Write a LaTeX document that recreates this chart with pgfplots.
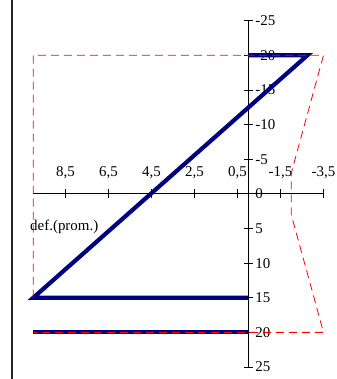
\documentclass[border=0pt]{standalone}
\usepackage{fontspec}
\setmainfont{Liberation Serif}
\usepackage{pgfplots}
\pgfplotsset{compat=1.18}
\definecolor{navyblue}{RGB}{0,0,128}
\begin{document}
\begin{tikzpicture}
\begin{axis}[
  at={(178.4bp,185.15bp)}, anchor=center,
  scale only axis, width=290.2bp, height=346.3bp,
  axis lines=middle, axis line style={-, black, line width=0.8bp},
  x dir=reverse, y dir=reverse,
  xmin=-3.5, xmax=10, ymin=-25, ymax=25,
  xtick={8.5,6.5,4.5,2.5,0.5,-1.5,-3.5},
  xticklabels={{8,5},{6,5},{4,5},{2,5},{0,5},{-1,5},{-3,5}},
  ytick={-25,-20,-15,-10,-5,0,5,10,15,20,25},
  yticklabels={-25,-20,-15,-10,-5,0,5,10,15,20,25},
  hide obscured x ticks=false, hide obscured y ticks=false,
  tick align=center, major tick length=9bp,
  tick style={black, line width=0.8bp},
  tick label style={font=\fontsize{15}{17}\selectfont},
  xticklabel style={anchor=base, yshift=22bp},
  yticklabel style={anchor=west, xshift=8.2bp},
  clip=false,
]
\addplot[navyblue, line width=4.2bp, line join=miter, mark=none] coordinates {
  (0,-20) (-2.75,-20) (10,15) (0,15)
};
\addplot[navyblue, line width=3.8bp, mark=none] coordinates {
  (10,20) (0,20)
};
\addplot[red, line width=0.8bp, dash pattern=on 8bp off 5bp, mark=none] coordinates {
  (10,15) (10,-20) (-3.5,-20) (-2,-3) (-2,3) (-3.5,20) (10,20)
};
\node[anchor=base, font=\fontsize{15}{17}\selectfont] at (axis cs:8.56,5.3) {def.(prom.)};
\end{axis}
\draw[line width=1.5bp, black!85] (12bp,0) -- (12bp,379bp);
\pgfresetboundingbox
\path (0,0) rectangle (337bp,379bp);
\end{tikzpicture}
\end{document}
